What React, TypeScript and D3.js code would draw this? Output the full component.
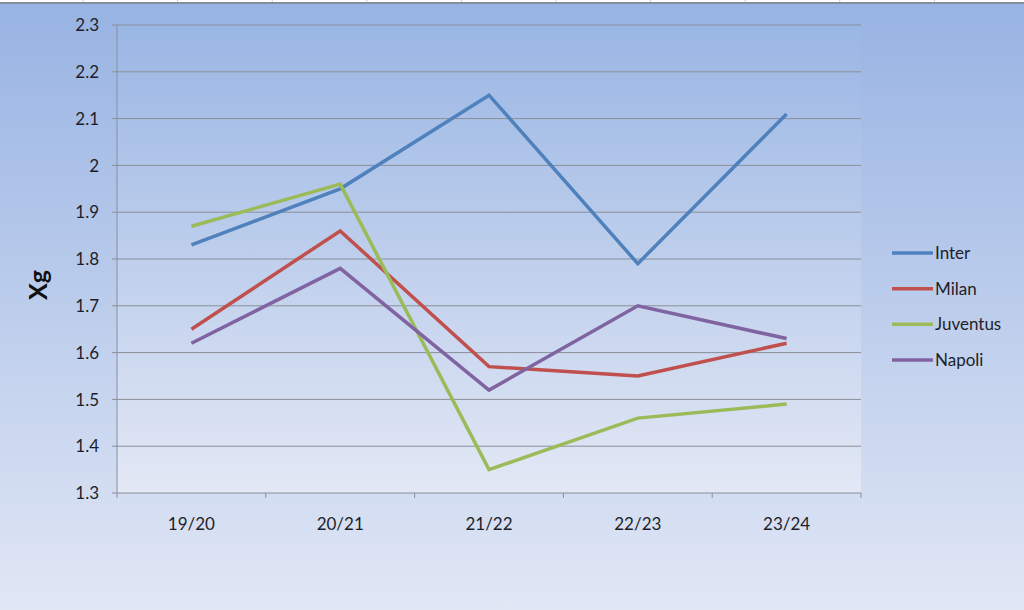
import React from "react";
import * as d3 from "d3";

const seasons = ["19/20", "20/21", "21/22", "22/23", "23/24"];
const inter = [1.83, 1.95, 2.15, 1.79, 2.11];
const milan = [1.65, 1.86, 1.57, 1.55, 1.62];
const juventus = [1.87, 1.96, 1.35, 1.46, 1.49];
const napoli = [1.62, 1.78, 1.52, 1.7, 1.63];
const seriesNames = ["Inter", "Milan", "Juventus", "Napoli"];
const seriesColors = ["#4f81bd", "#c0504d", "#9bbb59", "#8064a2"];
const yTicks = [1.3, 1.4, 1.5, 1.6, 1.7, 1.8, 1.9, 2, 2.1, 2.2, 2.3];
const yAxisTitle = "Xg";

const W = 1024;
const H = 610;
const plot = { left: 117, right: 861, top: 25, bottom: 493 };
const FONT = "Lato, 'Open Sans', sans-serif";

export default function App() {
  const series = [inter, milan, juventus, napoli];
  const x = d3.scaleBand<string>().domain(seasons).range([plot.left, plot.right]);
  const y = d3.scaleLinear().domain([1.3, 2.3]).range([plot.bottom, plot.top]);
  const line = d3
    .line<number>()
    .x((_, i) => (x(seasons[i]) as number) + x.bandwidth() / 2)
    .y((d) => y(d));

  const sheetCols = d3.range(10).map((i) => 83 + i * 94.6);
  const legendY = d3.scalePoint<string>().domain(seriesNames).range([253, 360]);

  return (
    <svg
      width={W}
      height={H}
      style={{ position: "absolute", left: 0, top: 0 }}
      fontFamily={FONT}
    >
      <defs>
        <linearGradient id="bgGrad" x1="0" y1="0" x2="0" y2="1">
          <stop offset="0" stopColor="#97b3e3" />
          <stop offset="1" stopColor="#e1e7f5" />
        </linearGradient>
        <linearGradient id="plotGrad" x1="0" y1="0" x2="0" y2="1">
          <stop offset="0" stopColor="#9ab6e4" />
          <stop offset="1" stopColor="#e3e8f5" />
        </linearGradient>
      </defs>
      <rect x={0} y={0} width={W} height={H} fill="url(#bgGrad)" />
      {/* spreadsheet strip at top */}
      <rect x={0} y={0} width={W} height={3} fill="#ffffff" />
      {sheetCols.map((c, i) => (
        <line key={i} x1={c} x2={c} y1={0} y2={3} stroke="#c8ccd2" strokeWidth={1} />
      ))}
      <rect x={0} y={2} width={W} height={2} fill="#848e9b" />

      <rect
        x={plot.left}
        y={plot.top}
        width={plot.right - plot.left}
        height={plot.bottom - plot.top}
        fill="url(#plotGrad)"
      />
      {/* gridlines */}
      {yTicks.map((t) => (
        <line
          key={t}
          x1={plot.left - 5}
          x2={plot.right}
          y1={y(t)}
          y2={y(t)}
          stroke="#8a8f98"
          strokeWidth={1}
        />
      ))}
      {/* y axis */}
      <line x1={plot.left} x2={plot.left} y1={plot.top} y2={plot.bottom + 5} stroke="#8a8f98" />
      {/* x ticks */}
      {seasons.map((s) => (
        <line
          key={s}
          x1={(x(s) as number) + x.bandwidth()}
          x2={(x(s) as number) + x.bandwidth()}
          y1={plot.bottom}
          y2={plot.bottom + 5}
          stroke="#8a8f98"
        />
      ))}
      {yTicks.map((t) => (
        <text
          key={t}
          x={plot.left - 18}
          y={y(t)}
          dy="0.36em"
          textAnchor="end"
          fontSize={17}
          fill="#1e1e2a"
        >
          {d3.format("~g")(t)}
        </text>
      ))}
      {seasons.map((s) => (
        <text
          key={s}
          x={(x(s) as number) + x.bandwidth() / 2}
          y={524}
          dy="0.36em"
          textAnchor="middle"
          fontSize={17}
          fill="#1e1e2a"
        >
          {s}
        </text>
      ))}
      <text
        transform={`translate(38,${(plot.top + plot.bottom) / 2 + 26}) rotate(-90)`}
        textAnchor="middle"
        dy="0.36em"
        fontSize={25}
        fontWeight="bold"
        fill="#111"
      >
        {yAxisTitle}
      </text>
      {series.map((vals, k) => (
        <path
          key={k}
          d={line(vals) as string}
          fill="none"
          stroke={seriesColors[k]}
          strokeWidth={3.5}
          strokeLinejoin="miter"
        />
      ))}
      {seriesNames.map((n, k) => (
        <g key={n} transform={`translate(0,${legendY(n)})`}>
          <line x1={892} x2={933} y1={0} y2={0} stroke={seriesColors[k]} strokeWidth={3.5} />
          <text x={935} y={0} dy="0.36em" fontSize={17} fill="#1e1e2a">
            {n}
          </text>
        </g>
      ))}
    </svg>
  );
}
